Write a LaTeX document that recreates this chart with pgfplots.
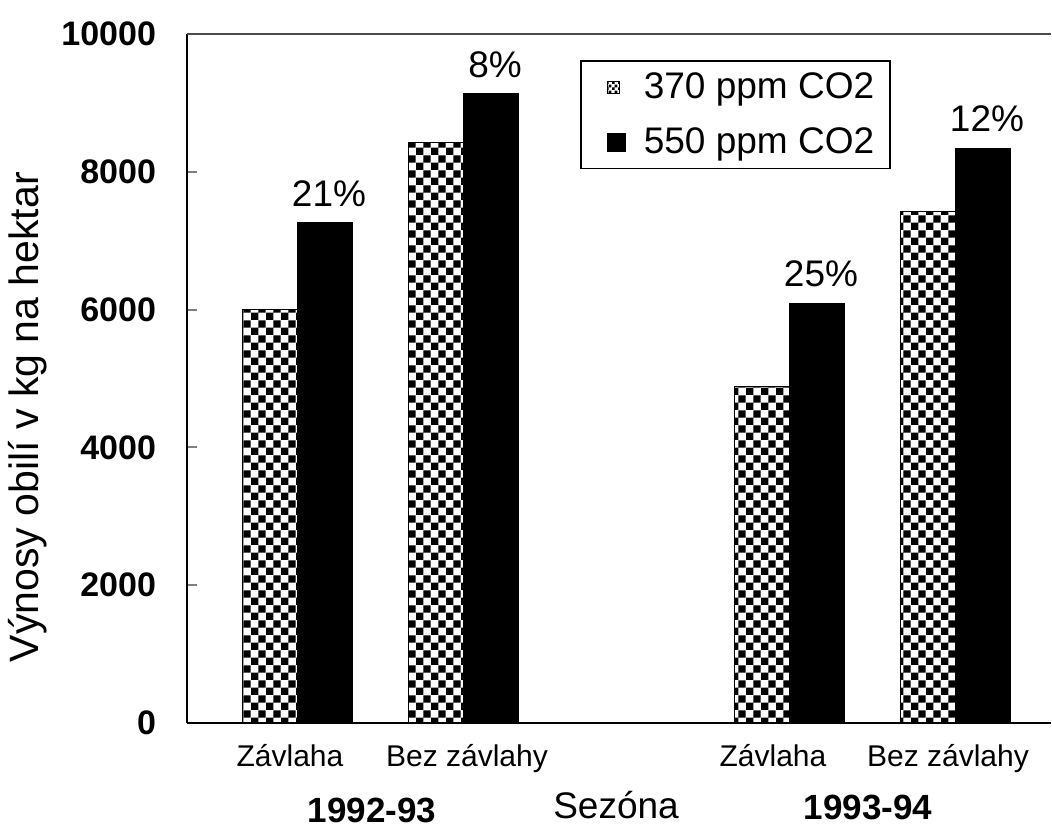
\documentclass[border=0pt]{standalone}
\usepackage{pgfplots}
\pgfplotsset{compat=1.18}
\usepackage{fontspec}
\setmainfont{Liberation Sans}
\usetikzlibrary{patterns}

% black-and-white checkerboard fills
\pgfdeclarepatternformonly{bigchecker}{\pgfqpoint{0pt}{0pt}}{\pgfqpoint{7.4pt}{7.4pt}}{\pgfqpoint{7.4pt}{7.4pt}}{%
  \pgfpathrectangle{\pgfqpoint{0pt}{0pt}}{\pgfqpoint{3.7pt}{3.7pt}}%
  \pgfpathrectangle{\pgfqpoint{3.7pt}{3.7pt}}{\pgfqpoint{3.7pt}{3.7pt}}%
  \pgfusepath{fill}}
\pgfdeclarepatternformonly{smallchecker}{\pgfqpoint{0pt}{0pt}}{\pgfqpoint{3pt}{3pt}}{\pgfqpoint{3pt}{3pt}}{%
  \pgfpathrectangle{\pgfqpoint{0pt}{0pt}}{\pgfqpoint{1.5pt}{1.5pt}}%
  \pgfpathrectangle{\pgfqpoint{1.5pt}{1.5pt}}{\pgfqpoint{1.5pt}{1.5pt}}%
  \pgfusepath{fill}}

\begin{document}
\begin{tikzpicture}
\begin{axis}[
  scale only axis,
  width=432pt, height=344.5pt,
  xmin=0, xmax=864,
  ymin=0, ymax=10000,
  scaled y ticks=false,
  axis lines*=left,
  axis line style={line width=1pt},
  ytick={0,2000,4000,6000,8000,10000},
  yticklabels={0,2000,4000,6000,8000,10000},
  yticklabel style={font=\fontsize{17}{19}\selectfont\bfseries, xshift=-12pt},
  tick align=inside,
  major tick length=5pt,
  ytick style={line width=1pt},
  xtick={103,280,586,761},
  xticklabels={Závlaha,Bez závlahy,Závlaha,Bez závlahy},
  xticklabel style={font=\fontsize{15}{17}\selectfont, yshift=-7pt},
  x tick style={draw=none},
  every axis y label/.style={at={(axis description cs:-0.184,0.444)}, rotate=90, anchor=center},
  ylabel={Výnosy obilí v kg na hektar},
  ylabel style={font=\fontsize{20.5}{24}\selectfont},
  legend style={at={(rel axis cs:0.4549,0.9623)}, anchor=north west,
    draw=black, line width=0.8pt, inner xsep=6pt, inner ysep=4pt,
    font=\fontsize{18.5}{21}\selectfont, row sep=9pt,
    cells={anchor=west}},
  clip=false,
]
% 370 ppm CO2
\addplot[ybar, bar width=55, bar shift=-27.5, draw=black, line width=0.5pt,
  pattern=bigchecker,
  legend image code/.code={%
    \path[draw=none, fill=none, pattern=none] (0pt,0pt) -- (23.5pt,0pt);
    \draw[black, line width=0.5pt, pattern=smallchecker] (7.5pt,-3pt) rectangle (13.5pt,3pt);}]
  coordinates {(110,6000) (276,8420) (602,4890) (768,7420)};
\addlegendentry{370 ppm CO2}
% 550 ppm CO2, labelled with the relative gain
\addplot[ybar, bar width=55, bar shift=27.5, draw=black, line width=0.5pt,
  fill=black, point meta=explicit symbolic, nodes near coords,
  every node near coord/.style={anchor=south, inner sep=0pt, yshift=8pt, xshift=16pt,
    font=\fontsize{18.5}{21}\selectfont, text=black},
  legend image code/.code={%
    \path[draw=none, fill=none] (0pt,0pt) -- (23.5pt,0pt);
    \fill[black] (7.5pt,-4.5pt) rectangle (16.5pt,4.5pt);}]
  coordinates {(110,7260) [21\%] (276,9130) [8\%] (602,6090) [25\%] (768,8340) [12\%]};
\addlegendentry{550 ppm CO2}
\draw[black!70, line width=1pt] (rel axis cs:0,1) -- (rel axis cs:1,1);
\node[font=\fontsize{17.5}{20}\selectfont\bfseries] at (axis cs:185,0) [yshift=-43.5pt] {1992-93};
\node[font=\fontsize{18.5}{21}\selectfont] at (axis cs:429,0) [yshift=-41pt] {Sezóna};
\node[font=\fontsize{17.5}{20}\selectfont\bfseries] at (axis cs:681,0) [yshift=-42pt] {1993-94};
\end{axis}
\pgfresetboundingbox
\path[use as bounding box] (-93.5pt,-52.5pt) rectangle (432.5pt,361.5pt);
\end{tikzpicture}
\end{document}
